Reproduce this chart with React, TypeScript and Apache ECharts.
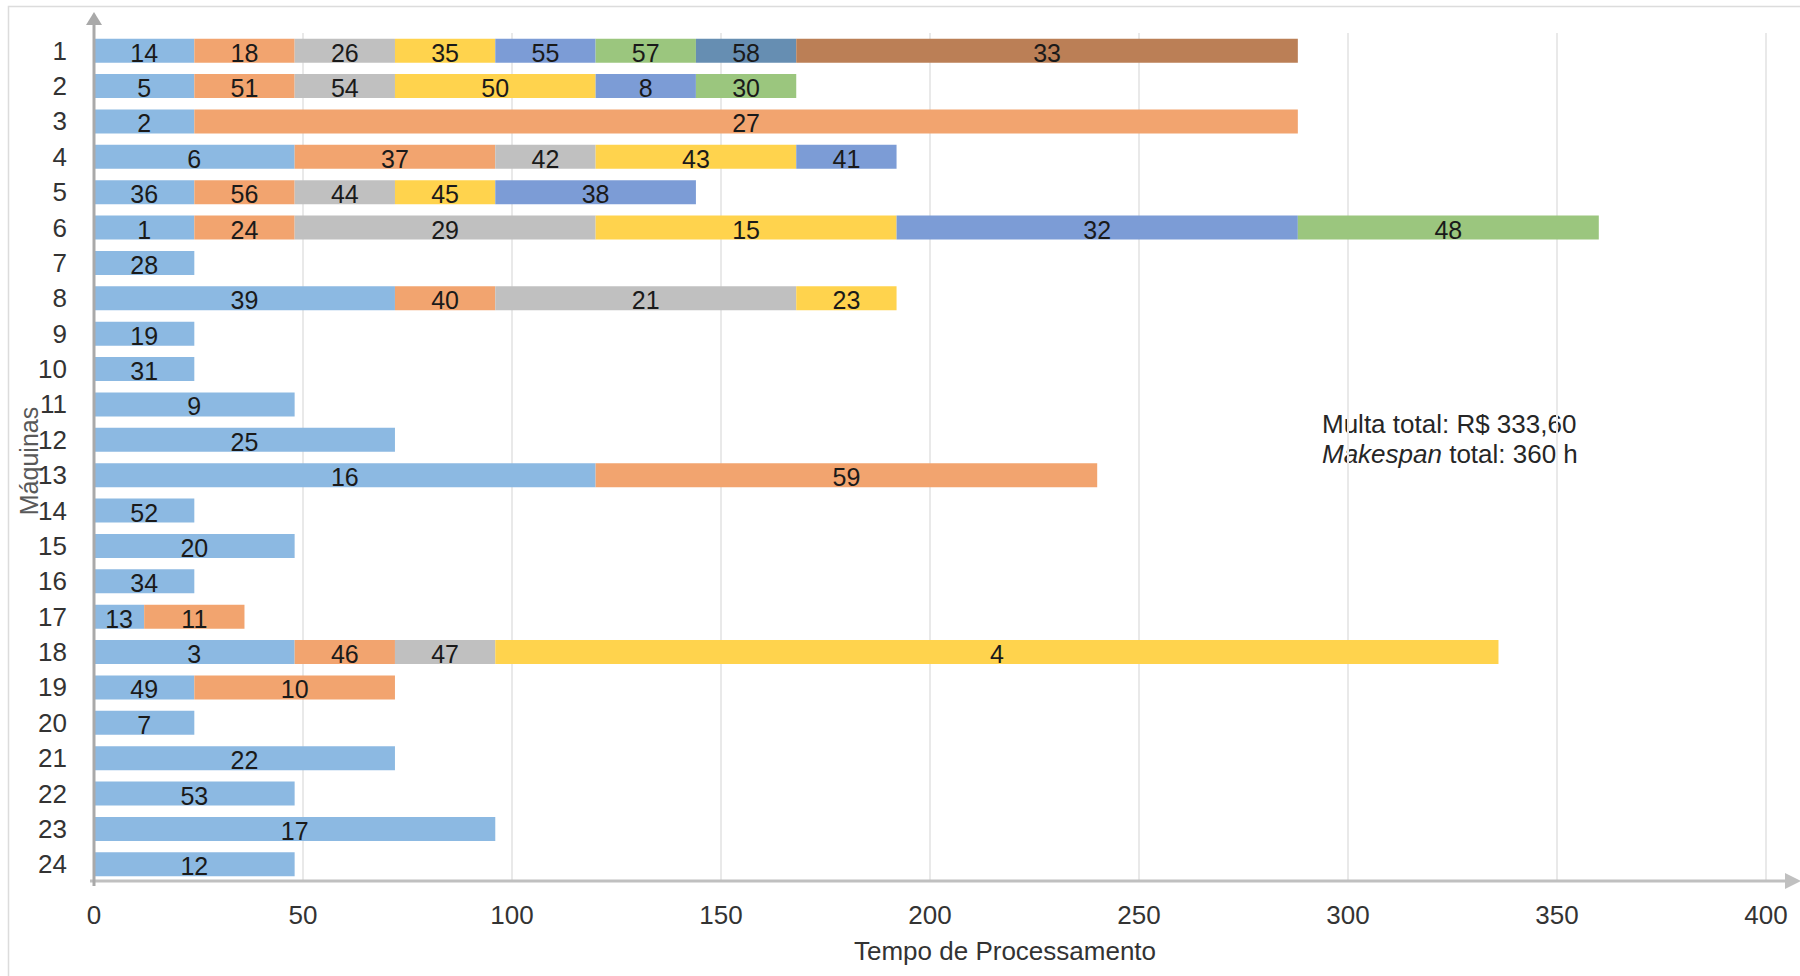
import React, { useEffect, useRef } from "react";
import * as echarts from "echarts";

const _ = null;

const machines = ["1","2","3","4","5","6","7","8","9","10","11","12","13","14","15","16","17","18","19","20","21","22","23","24"];
const xTicks = [0, 50, 100, 150, 200, 250, 300, 350, 400];

// processing hours per stacking position (1st job on machine, 2nd job, ...)
const stage1Hours = [24, 24, 24, 48, 24, 24, 24, 72, 24, 24, 48, 72, 120, 24, 48, 24, 12, 48, 24, 24, 72, 48, 96, 48];
const stage1Jobs = [14, 5, 2, 6, 36, 1, 28, 39, 19, 31, 9, 25, 16, 52, 20, 34, 13, 3, 49, 7, 22, 53, 17, 12];
const stage2Hours = [24, 24, 264, 48, 24, 24, _, 24, _, _, _, _, 120, _, _, _, 24, 24, 48, _, _, _, _, _];
const stage2Jobs = [18, 51, 27, 37, 56, 24, _, 40, _, _, _, _, 59, _, _, _, 11, 46, 10, _, _, _, _, _];
const stage3Hours = [24, 24, _, 24, 24, 72, _, 72, _, _, _, _, _, _, _, _, _, 24, _, _, _, _, _, _];
const stage3Jobs = [26, 54, _, 42, 44, 29, _, 21, _, _, _, _, _, _, _, _, _, 47, _, _, _, _, _, _];
const stage4Hours = [24, 48, _, 48, 24, 72, _, 24, _, _, _, _, _, _, _, _, _, 240, _, _, _, _, _, _];
const stage4Jobs = [35, 50, _, 43, 45, 15, _, 23, _, _, _, _, _, _, _, _, _, 4, _, _, _, _, _, _];
const stage5Hours = [24, 24, _, 24, 48, 96, _, _, _, _, _, _, _, _, _, _, _, _, _, _, _, _, _, _];
const stage5Jobs = [55, 8, _, 41, 38, 32, _, _, _, _, _, _, _, _, _, _, _, _, _, _, _, _, _, _];
const stage6Hours = [24, 24, _, _, _, 72, _, _, _, _, _, _, _, _, _, _, _, _, _, _, _, _, _, _];
const stage6Jobs = [57, 30, _, _, _, 48, _, _, _, _, _, _, _, _, _, _, _, _, _, _, _, _, _, _];
const stage7Hours = [24, _, _, _, _, _, _, _, _, _, _, _, _, _, _, _, _, _, _, _, _, _, _, _];
const stage7Jobs = [58, _, _, _, _, _, _, _, _, _, _, _, _, _, _, _, _, _, _, _, _, _, _, _];
const stage8Hours = [120, _, _, _, _, _, _, _, _, _, _, _, _, _, _, _, _, _, _, _, _, _, _, _];
const stage8Jobs = [33, _, _, _, _, _, _, _, _, _, _, _, _, _, _, _, _, _, _, _, _, _, _, _];

const stageHours = [stage1Hours, stage2Hours, stage3Hours, stage4Hours, stage5Hours, stage6Hours, stage7Hours, stage8Hours];
const stageJobs = [stage1Jobs, stage2Jobs, stage3Jobs, stage4Jobs, stage5Jobs, stage6Jobs, stage7Jobs, stage8Jobs];
const stageColors = ["#8CB9E2", "#F2A46F", "#C0C0C0", "#FFD34D", "#7C9CD6", "#9BC67E", "#668EB2", "#BB7F56"];

const FONT = '"Liberation Sans", Arial, Helvetica, sans-serif';
const W = 1800;
const H = 976;
const GL = 94;
const GR = 1766;
const GT = 33;
const GB = 882;

export default function App() {
  const ref = useRef<HTMLDivElement>(null);

  useEffect(() => {
    if (!ref.current) return;
    const chart = echarts.init(ref.current, undefined, { renderer: "svg" });

    const series = stageHours.map((hours, si) => ({
      type: "bar",
      name: "Etapa " + (si + 1),
      stack: "machine",
      barWidth: 24,
      data: hours,
      itemStyle: { color: stageColors[si] },
      label: {
        show: true,
        position: "inside",
        offset: [0, 2],
        color: "#1a1a1a",
        fontSize: 25,
        fontFamily: FONT,
        formatter: (p: any) => {
          const j = stageJobs[si][p.dataIndex];
          return j == null ? "" : String(j);
        },
      },
    }));

    const axisGray = "#a9a9a9";
    const axisGray2 = "#c0c0c0";

    chart.setOption({
      animation: false,
      backgroundColor: "#ffffff",
      textStyle: { fontFamily: FONT },
      grid: { left: GL, right: W - GR, top: GT, bottom: H - GB, containLabel: false },
      xAxis: {
        type: "value",
        min: xTicks[0],
        max: xTicks[xTicks.length - 1],
        interval: 50,
        axisLine: { show: false },
        axisTick: { show: false },
        axisLabel: { fontSize: 26, color: "#333333", margin: 20, fontFamily: FONT },
        splitLine: { show: true, lineStyle: { color: "#e9e9e9", width: 2 } },
      },
      yAxis: {
        type: "category",
        data: machines,
        inverse: true,
        axisLine: { show: false },
        axisTick: { show: false },
        axisLabel: { fontSize: 26, color: "#333333", margin: 27, fontFamily: FONT },
        splitLine: { show: false },
      },
      graphic: [
        {
          type: "rect",
          silent: true,
          shape: { x: 8.5, y: 6.5, width: 1900, height: 1100 },
          style: { fill: "none", stroke: "#dcdcdc", lineWidth: 1.5 },
          z: -10,
        },
        {
          type: "line",
          silent: true,
          shape: { x1: GL - 4, y1: GB - 1, x2: GR + 20, y2: GB - 1 },
          style: { stroke: axisGray2, lineWidth: 3 },
          z: 50,
        },
        {
          type: "polygon",
          silent: true,
          shape: { points: [[GR + 19, GB - 9], [GR + 35, GB - 1], [GR + 19, GB + 7]] },
          style: { fill: axisGray2 },
          z: 50,
        },
        {
          type: "line",
          silent: true,
          shape: { x1: GL, y1: GB + 4, x2: GL, y2: GT - 8 },
          style: { stroke: axisGray, lineWidth: 3 },
          z: 51,
        },
        {
          type: "polygon",
          silent: true,
          shape: { points: [[GL - 8, GT - 8], [GL, GT - 21], [GL + 8, GT - 8]] },
          style: { fill: axisGray },
          z: 51,
        },
        {
          type: "text",
          silent: true,
          x: 1005,
          y: 951,
          style: {
            text: "Tempo de Processamento",
            fontSize: 26,
            fontFamily: FONT,
            fill: "#333333",
            align: "center",
            verticalAlign: "middle",
          },
        },
        {
          type: "text",
          silent: true,
          x: 29,
          y: 461,
          rotation: Math.PI / 2,
          style: {
            text: "Máquinas",
            fontSize: 25,
            fontFamily: FONT,
            fill: "#595959",
            align: "center",
            verticalAlign: "middle",
          },
        },
        {
          type: "text",
          silent: true,
          x: 1322,
          y: 424,
          style: {
            text: "Multa total: R$ 333,60",
            fontSize: 26,
            fontFamily: FONT,
            fill: "#262626",
            align: "left",
            verticalAlign: "middle",
          },
        },
        {
          type: "text",
          silent: true,
          x: 1322,
          y: 454,
          style: {
            text: "{i|Makespan} total: 360 h",
            fontSize: 26,
            fontFamily: FONT,
            fill: "#262626",
            align: "left",
            verticalAlign: "middle",
            rich: {
              i: { fontStyle: "italic", fontSize: 26, fontFamily: FONT, fill: "#262626" },
            },
          },
        },
      ],
      series,
    });

    return () => {
      chart.dispose();
    };
  }, []);

  return (
    <div
      ref={ref}
      style={{ position: "fixed", left: 0, top: 0, width: W, height: H }}
    />
  );
}
